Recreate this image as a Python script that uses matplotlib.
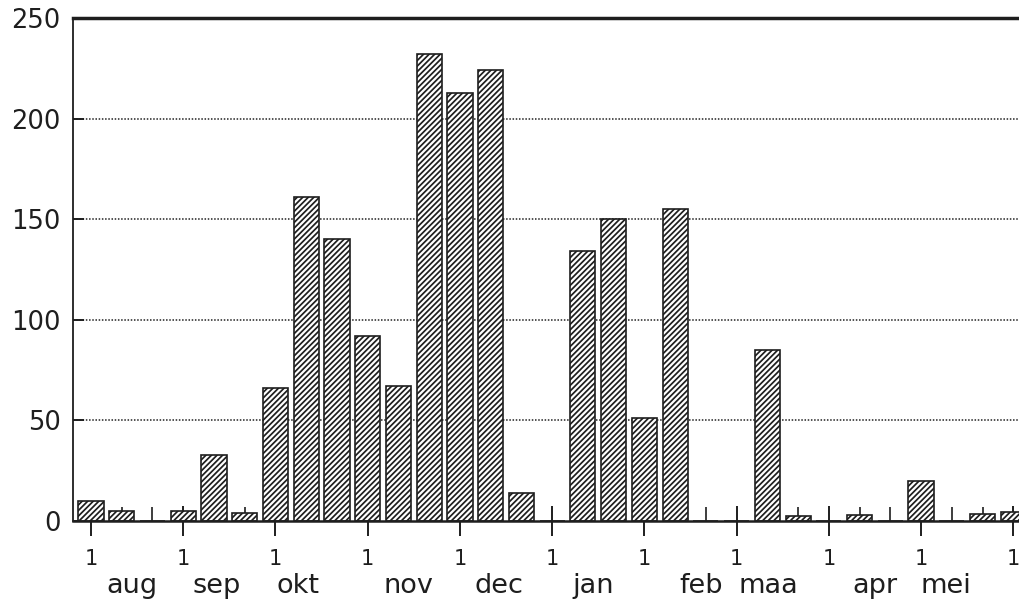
import matplotlib.pyplot as plt
import numpy as np

plt.rcParams['font.family'] = ['DejaVu Sans']
plt.rcParams['hatch.linewidth'] = 1.25

# aantal per decade (1, 11, 21 van elke maand), aug t/m mei
counts = [10, 5, 0, 5, 33, 4, 66, 161, 140, 92, 67, 232, 213, 224, 14, 0,
          134, 150, 51, 155, 0, 0, 85, 2.5, 0, 3, 0, 20, 0, 3.5, 4.5]
months = ['aug', 'sep', 'okt', 'nov', 'dec', 'jan', 'feb', 'maa', 'apr', 'mei']
yticks = [0, 50, 100, 150, 200, 250]

# plaats van de maandnamen onder de as (in decade-eenheden)
month_x = [1.33, 4.10, 6.73, 10.34, 13.27, 16.33, 19.84, 22.02, 25.50, 27.80]

ink = '#1e1e1e'

fig = plt.figure(figsize=(10.19, 6.05), dpi=100)
ax = fig.add_axes([0.0716, 0.139, 0.934, 0.831])

x = np.arange(len(counts))
ax.bar(x, counts, 0.82, color='white', edgecolor=ink, hatch='//////',
       linewidth=1.2, zorder=2)

# stippellijnen
for y in yticks[1:-1]:
    ax.axhline(y, color='#222222', lw=1.1, ls=(0, (1, 1.1)), zorder=1.0)

ax.set_xlim(-0.585, 30.37)
ax.set_ylim(0, 250)
ax.set_yticks(yticks)
ax.tick_params(axis='y', direction='in', length=8, width=1.4,
               labelsize=18.5, pad=9, colors=ink)

ax.set_xticks(np.arange(0, 31, 3))
ax.set_xticklabels(['1'] * 11)
ax.set_xticks([i for i in range(31) if i % 3], minor=True)
ax.tick_params(axis='x', which='major', direction='inout', length=22,
               width=1.4, labelsize=15, pad=9, colors=ink)
ax.tick_params(axis='x', which='minor', direction='in', length=10,
               width=1.2, colors=ink)

ax.spines['right'].set_visible(False)
ax.spines['top'].set_linewidth(2.5)
ax.spines['left'].set_linewidth(1.3)
ax.spines['bottom'].set_linewidth(1.8)
for s in ax.spines.values():
    s.set_color(ink)
    s.set_zorder(3)

for name, pos in zip(months, month_x):
    ax.text(pos, -0.143, name, transform=ax.get_xaxis_transform(),
            ha='center', va='baseline', fontsize=19.5, color=ink)

fig.savefig('out.png', dpi=100)
